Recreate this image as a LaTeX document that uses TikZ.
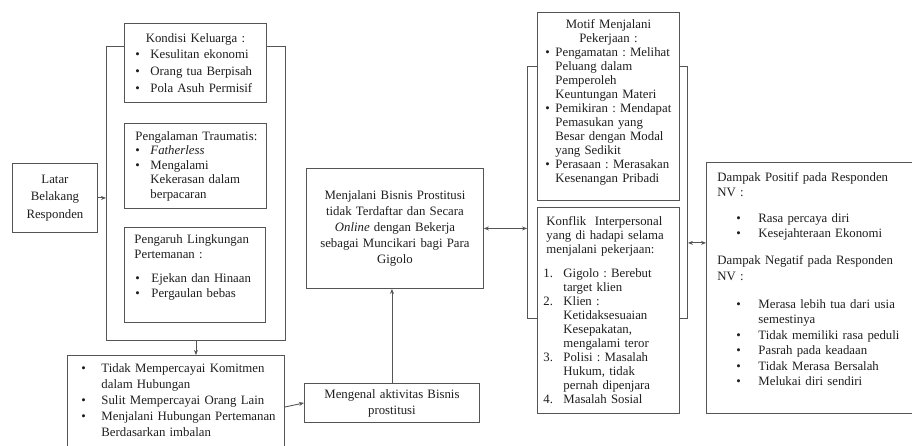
\documentclass[tikz,border=0pt]{standalone}
\usepackage{fontspec}
\setmainfont{Liberation Serif}
\usetikzlibrary{arrows.meta}
\definecolor{line-gray}{HTML}{555555}
\definecolor{text-gray}{HTML}{1E1E1E}
\setlength{\parindent}{0pt}
\frenchspacing
% label box at the start of a line: indent, label width, label
\newcommand{\lbl}[3]{\hspace*{#1}\makebox[#2][l]{#3}}
\newcommand{\ttl}[1]{\makebox[\hsize][c]{#1}}

\begin{document}
\begin{tikzpicture}[x=1pt, y=-1pt,
      every node/.style={font=\fontsize{12.8}{16}\selectfont, text=text-gray},
      box/.style={draw=line-gray, line width=0.9pt, fill=white,
        anchor=north west, align=left, inner xsep=4pt, inner ysep=2pt},
      group/.style={draw=line-gray, line width=0.9pt, anchor=north west,
        inner sep=0pt},
      arr/.style={draw=line-gray, line width=0.9pt,
        -{Stealth[length=5pt, width=4pt]}},
      darr/.style={draw=line-gray, line width=0.9pt,
        {Stealth[length=5pt, width=4pt]}-{Stealth[length=5pt, width=4pt]}}]
    \useasboundingbox (0,0) rectangle (912,446);

    % outer frames
    \node[group, minimum width=179pt, minimum height=294pt] (latarGroup) at (106,46) {};
    \node[group, minimum width=160pt, minimum height=252pt] (kerjaGroup) at (527,66) {};

    \node[box, text width=77pt, minimum height=69pt, align=center,
          font=\fontsize{12.8}{17.5}\selectfont] (latar) at (12,163)
          {Latar\\Belakang\\Responden};

    \node[box, text width=134pt, minimum height=79pt,
          font=\fontsize{12.8}{16.7}\selectfont] (keluarga) at (124,23)
          {\ttl{Kondisi Keluarga :}\\
           \lbl{7pt}{15pt}{\textbullet}Kesulitan ekonomi\\
           \lbl{7pt}{15pt}{\textbullet}Orang tua Berpisah\\
           \lbl{7pt}{15pt}{\textbullet}Pola Asuh Permisif};
    \node[box, text width=134pt, minimum height=85pt,
          font=\fontsize{12.8}{14.5}\selectfont] (trauma) at (124,123)
          {\hspace*{7pt}Pengalaman Traumatis:\\
           \lbl{7pt}{15pt}{\textbullet}\textit{Fatherless}\\
           \lbl{7pt}{15pt}{\textbullet}Mengalami\\
           \hspace*{22pt}Kekerasan dalam\\
           \hspace*{22pt}berpacaran};
    \node[box, text width=133pt, minimum height=95pt,
          font=\fontsize{12.8}{15}\selectfont] (teman) at (124,227)
          {\hspace*{6pt}Pengaruh Lingkungan\\
           \hspace*{6pt}Pertemanan :\\[9pt]
           \lbl{7pt}{16pt}{\textbullet}Ejekan dan Hinaan\\
           \lbl{7pt}{16pt}{\textbullet}Pergaulan bebas\\[3pt]
           \mbox{}};

    \node[box, text width=209pt, inner ysep=8pt] (bawah) at (67,355)
          {\lbl{10pt}{20pt}{\textbullet}Tidak Mempercayai Komitmen\\
           \hspace*{30pt}dalam Hubungan\\
           \lbl{10pt}{20pt}{\textbullet}Sulit Mempercayai Orang Lain\\
           \lbl{10pt}{20pt}{\textbullet}Menjalani Hubungan Pertemanan\\
           \hspace*{30pt}Berdasarkan imbalan\\[30pt]
           \mbox{}};

    \node[box, text width=169pt, minimum height=120pt, align=center] (bisnis) at (306,168)
          {Menjalani Bisnis Prostitusi\\tidak Terdaftar dan Secara\\
           \textit{Online} dengan Bekerja\\sebagai Muncikari bagi Para\\Gigolo};
    \node[box, text width=167pt, minimum height=39pt, align=center] (kenal) at (304,383)
          {Mengenal aktivitas Bisnis\\prostitusi};

    \node[box, text width=134pt, minimum height=188pt,
          font=\fontsize{12.8}{14}\selectfont] (motif) at (537,12)
          {\ttl{Motif Menjalani}\\
           \ttl{Pekerjaan :}\\
           \lbl{4pt}{10pt}{\textbullet}Pengamatan : Melihat\\
           \hspace*{14pt}Peluang dalam\\
           \hspace*{14pt}Pemperoleh\\
           \hspace*{14pt}Keuntungan Materi\\
           \lbl{4pt}{10pt}{\textbullet}Pemikiran : Mendapat\\
           \hspace*{14pt}Pemasukan yang\\
           \hspace*{14pt}Besar dengan Modal\\
           \hspace*{14pt}yang Sedikit\\
           \lbl{4pt}{10pt}{\textbullet}Perasaan : Merasakan\\
           \hspace*{14pt}Kesenangan Pribadi\\[-3pt]
           \mbox{}};
    \node[box, text width=134pt, minimum height=206pt,
          font=\fontsize{12.8}{14}\selectfont] (konflik) at (537,207)
          {\hspace*{5pt}Konflik\ \ Interpersonal\\
           \hspace*{5pt}yang di hadapi selama\\
           \hspace*{5pt}menjalani pekerjaan:\\[10pt]
           \lbl{2pt}{20pt}{1.}Gigolo : Berebut\\
           \hspace*{22pt}target klien\\
           \lbl{2pt}{20pt}{2.}Klien :\\
           \hspace*{22pt}Ketidaksesuaian\\
           \hspace*{22pt}Kesepakatan,\\
           \hspace*{22pt}mengalami teror\\
           \lbl{2pt}{20pt}{3.}Polisi : Masalah\\
           \hspace*{22pt}Hukum, tidak\\
           \hspace*{22pt}pernah dipenjara\\
           \lbl{2pt}{20pt}{4.}Masalah Sosial};

    \node[box, text width=206pt, minimum height=251pt,
          font=\fontsize{12.8}{15.5}\selectfont] (dampak) at (706,162)
          {\hspace*{7pt}Dampak Positif pada Responden\\
           \hspace*{7pt}NV :\\[10pt]
           \lbl{26pt}{22pt}{\textbullet}Rasa percaya diri\\
           \lbl{26pt}{22pt}{\textbullet}Kesejahteraan Ekonomi\\[11.5pt]
           \hspace*{7pt}Dampak Negatif pada Responden\\
           \hspace*{7pt}NV :\\[12.5pt]
           \lbl{26pt}{22pt}{\textbullet}Merasa lebih tua dari usia\\
           \hspace*{48pt}semestinya\\
           \lbl{26pt}{22pt}{\textbullet}Tidak memiliki rasa peduli\\
           \lbl{26pt}{22pt}{\textbullet}Pasrah pada keadaan\\
           \lbl{26pt}{22pt}{\textbullet}Tidak Merasa Bersalah\\
           \lbl{26pt}{22pt}{\textbullet}Melukai diri sendiri\\[2pt]
           \mbox{}};

    % connectors
    \coordinate (bawahOut) at ([yshift=-52pt]bawah.north east);
    \coordinate (kerjaOut) at ([yshift=76pt]kerjaGroup.south east);
    \draw[arr] (latar.east) -- (latar.east -| latarGroup.west);
    \draw[arr] (latarGroup.south) -- (latarGroup.south |- bawah.north);
    \draw[arr] (bawahOut) -- (kenal.west);
    \draw[arr] (kenal.north) -- (kenal.north |- bisnis.south);
    \draw[darr] (bisnis.east) -- (bisnis.east -| kerjaGroup.west);
    \draw[darr] (kerjaOut) -- (kerjaOut -| dampak.west);
  \end{tikzpicture}
\end{document}
